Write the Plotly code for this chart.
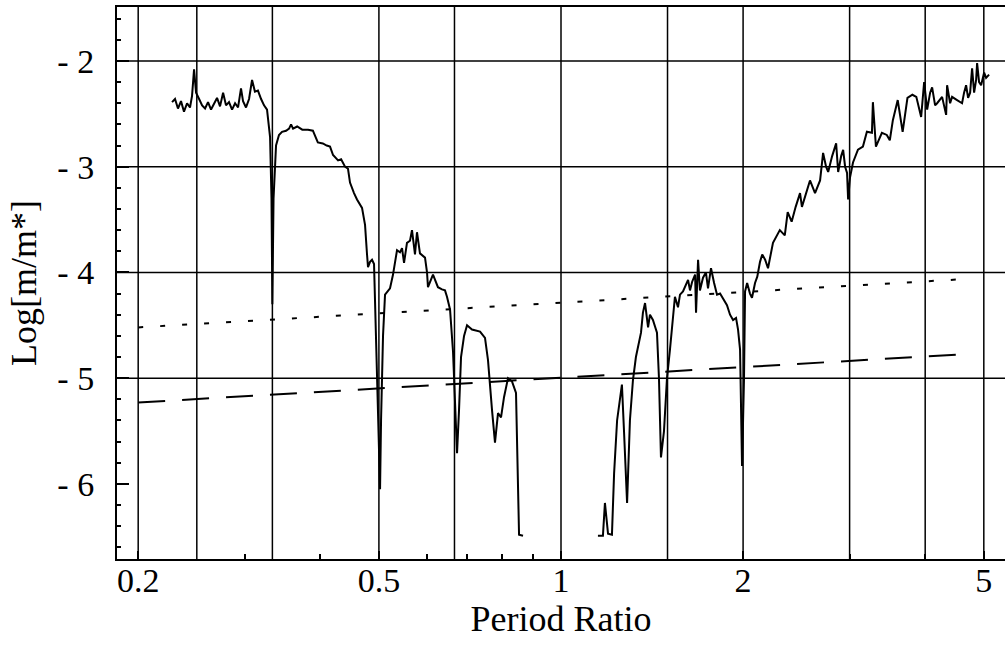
import plotly.graph_objects as go

# ---- data ----
seg1_x = [0.2275, 0.2301, 0.2327, 0.2354, 0.2381, 0.2409, 0.2436, 0.2455, 0.2474, 0.2493,
          0.2522, 0.2551, 0.2580, 0.2609, 0.2639, 0.2670, 0.2700, 0.2731, 0.2763, 0.2794,
          0.2826, 0.2859, 0.2892, 0.2925, 0.2958, 0.2981, 0.3015, 0.3050, 0.3085, 0.3119,
          0.3155, 0.3193, 0.3229, 0.3266, 0.3304, 0.3322, 0.3333, 0.3348, 0.3380, 0.3418,
          0.3458, 0.3511, 0.3552, 0.3579, 0.3606, 0.3663, 0.3735, 0.3818, 0.3889, 0.3963,
          0.4039, 0.4099, 0.4151, 0.4199, 0.4280, 0.4330, 0.4395, 0.4445, 0.4479, 0.4548,
          0.4600, 0.4689, 0.4743, 0.4779, 0.4797, 0.4834, 0.4871, 0.4908, 0.4965, 0.5000,
          0.5022, 0.5041, 0.5079, 0.5118, 0.5216, 0.5276, 0.5357, 0.5418, 0.5460, 0.5502,
          0.5564, 0.5628, 0.5671, 0.5736, 0.5780, 0.5846, 0.5959, 0.6005, 0.6027, 0.6143,
          0.6260, 0.6357, 0.6430, 0.6479, 0.6555, 0.6630, 0.6681, 0.6732, 0.6783, 0.6835,
          0.6914, 0.6993, 0.7126, 0.7348, 0.7488, 0.7574, 0.7690, 0.7778, 0.7868, 0.7959,
          0.8050, 0.8173, 0.8298, 0.8426, 0.8524, 0.8654]
seg1_y = [-2.39, -2.36, -2.45, -2.38, -2.48, -2.40, -2.44, -2.33, -2.08, -2.30,
          -2.36, -2.42, -2.45, -2.39, -2.46, -2.41, -2.35, -2.43, -2.30, -2.42,
          -2.39, -2.46, -2.40, -2.44, -2.26, -2.38, -2.44, -2.36, -2.18, -2.29,
          -2.28, -2.36, -2.42, -2.46, -2.72, -3.30, -4.30, -3.30, -2.80, -2.70,
          -2.67, -2.66, -2.64, -2.60, -2.64, -2.62, -2.65, -2.65, -2.66, -2.77,
          -2.78, -2.80, -2.81, -2.89, -2.94, -2.93, -3.00, -3.02, -3.15, -3.25,
          -3.31, -3.39, -3.55, -3.83, -3.95, -3.90, -3.88, -3.92, -4.89, -5.60,
          -6.05, -5.40, -4.60, -4.21, -4.15, -4.02, -3.79, -3.81, -3.77, -3.91,
          -3.72, -3.70, -3.60, -3.83, -3.62, -3.82, -3.86, -4.00, -4.14, -4.02,
          -4.14, -4.16, -4.17, -4.23, -4.35, -4.75, -5.30, -5.71, -5.30, -4.80,
          -4.60, -4.50, -4.54, -4.56, -4.62, -4.83, -5.30, -5.61, -5.33, -5.37,
          -5.18, -5.00, -5.03, -5.14, -6.48, -6.49]

seg2_x = [1.151, 1.173, 1.182, 1.196, 1.214, 1.224, 1.238, 1.252, 1.261, 1.271,
          1.286, 1.300, 1.315, 1.330, 1.356, 1.366, 1.377, 1.393, 1.403, 1.419,
          1.441, 1.452, 1.463, 1.480, 1.497, 1.514, 1.531, 1.543, 1.561, 1.573,
          1.591, 1.609, 1.622, 1.634, 1.647, 1.666, 1.672, 1.685, 1.697, 1.717,
          1.736, 1.750, 1.770, 1.791, 1.811, 1.832, 1.860, 1.881, 1.903, 1.925,
          1.947, 1.962, 1.977, 1.992, 2.007, 2.015, 2.031, 2.053, 2.069, 2.093,
          2.111, 2.133, 2.151, 2.175, 2.199, 2.241, 2.300, 2.344, 2.370, 2.406,
          2.443, 2.484, 2.502, 2.541, 2.580, 2.630, 2.681, 2.712, 2.743, 2.765,
          2.807, 2.850, 2.872, 2.905, 2.927, 2.949, 2.971, 2.983, 3.005, 3.039,
          3.097, 3.156, 3.204, 3.266, 3.278, 3.316, 3.392, 3.456, 3.496, 3.537,
          3.603, 3.671, 3.739, 3.810, 3.867, 3.939, 3.984, 4.030, 4.076, 4.107,
          4.154, 4.186, 4.266, 4.332, 4.348, 4.398, 4.431, 4.516, 4.603, 4.638,
          4.674, 4.710, 4.746, 4.782, 4.819, 4.856, 4.874, 4.911, 4.949, 5.006,
          5.044, 5.101]
seg2_y = [-6.49, -6.49, -6.18, -6.47, -6.48, -5.90, -5.40, -5.16, -5.06, -5.50,
          -6.18, -5.40, -5.02, -4.80, -4.57, -4.38, -4.29, -4.52, -4.40, -4.45,
          -4.57, -5.00, -5.75, -5.50, -5.00, -4.73, -4.45, -4.23, -4.33, -4.21,
          -4.18, -4.12, -4.07, -4.17, -4.09, -4.02, -4.38, -3.88, -4.17, -4.05,
          -4.00, -4.15, -3.96, -4.10, -4.21, -4.20, -4.26, -4.31, -4.40, -4.45,
          -4.43, -4.54, -4.73, -5.83, -5.00, -4.18, -4.10, -4.20, -4.24, -4.10,
          -4.04, -3.90, -3.83, -3.88, -3.96, -3.72, -3.60, -3.65, -3.43, -3.52,
          -3.38, -3.25, -3.38, -3.25, -3.13, -3.25, -3.13, -2.87, -3.00, -3.05,
          -2.90, -2.78, -3.05, -2.90, -2.84, -3.00, -3.06, -3.31, -3.10, -2.96,
          -2.84, -2.81, -2.67, -2.68, -2.39, -2.81, -2.68, -2.70, -2.75, -2.56,
          -2.37, -2.67, -2.35, -2.32, -2.34, -2.53, -2.20, -2.46, -2.30, -2.25,
          -2.42, -2.40, -2.34, -2.51, -2.23, -2.40, -2.34, -2.37, -2.40, -2.30,
          -2.23, -2.35, -2.30, -2.07, -2.30, -2.18, -2.02, -2.20, -2.23, -2.11,
          -2.16, -2.13]

dotted_x = [0.2, 4.74]
dotted_y = [-4.52, -4.06]
dashed_x = [0.2, 4.74]
dashed_y = [-5.23, -4.77]

resonances = [0.2, 0.25, 1/3, 0.5, 2/3, 1, 1.5, 2, 3, 4, 5]
hgrid = [-2, -3, -4, -5]
x_ticks = [0.2, 0.5, 1, 2, 5]
x_ticktext = ["0.2", "0.5", "1", "2", "5"]
x_minor = [0.3, 0.4, 0.6, 0.7, 0.8, 0.9, 3, 4]
y_ticks = [-2, -3, -4, -5, -6]
y_ticktext = ["- 2", "- 3", "- 4", "- 5", "- 6"]

FONT = "Liberation Serif"

fig = go.Figure()
fig.add_trace(go.Scatter(x=dotted_x, y=dotted_y, mode="lines",
                         line=dict(color="black", width=2, dash="5px,17px"), showlegend=False))
fig.add_trace(go.Scatter(x=dashed_x, y=dashed_y, mode="lines",
                         line=dict(color="black", width=2, dash="27px,17px"), showlegend=False))
fig.add_trace(go.Scatter(x=seg1_x, y=seg1_y, mode="lines",
                         line=dict(color="black", width=2), showlegend=False))
fig.add_trace(go.Scatter(x=seg2_x, y=seg2_y, mode="lines",
                         line=dict(color="black", width=2), showlegend=False))

shapes = []
for r in resonances:
    shapes.append(dict(type="line", xref="x", yref="paper", x0=r, x1=r, y0=0, y1=1,
                       line=dict(color="black", width=1.5), layer="below"))
for h in hgrid:
    shapes.append(dict(type="line", xref="paper", yref="y", x0=0, x1=1, y0=h, y1=h,
                       line=dict(color="black", width=1.5), layer="below"))

fig.update_layout(
    width=1005, height=645,
    margin=dict(l=117, r=0, t=7, b=86),
    paper_bgcolor="white", plot_bgcolor="white",
    font=dict(family=FONT, size=34, color="black"),
    shapes=shapes,
    xaxis=dict(type="log", range=[-0.734, 0.734],
               tickmode="array", tickvals=x_ticks, ticktext=x_ticktext,
               ticks="inside", ticklen=8, tickwidth=1.5, tickcolor="black",
               minor=dict(tickmode="array", tickvals=x_minor, ticks="inside",
                          ticklen=5, tickwidth=1.5, tickcolor="black", showgrid=False),
               showgrid=False, zeroline=False,
               showline=True, linecolor="black", linewidth=2, mirror=True,
               ticklabelstandoff=-10,
               tickfont=dict(size=34),
               title=dict(text="Period Ratio", standoff=0, font=dict(size=36))),
    yaxis=dict(range=[-6.71, -1.49],
               tickmode="array", tickvals=y_ticks, ticktext=y_ticktext,
               ticks="inside", ticklen=12, tickwidth=1.5, tickcolor="black",
               minor=dict(dtick=0.2, tick0=-2, ticks="inside", ticklen=4,
                          tickwidth=1.5, tickcolor="black", showgrid=False),
               showgrid=False, zeroline=False,
               showline=True, linecolor="black", linewidth=2, mirror=False,
               ticklabelstandoff=14,
               tickfont=dict(size=34),
               title=dict(text="Log[m/m*]", standoff=10, font=dict(size=36))),
)

fig.write_html("out.html")
